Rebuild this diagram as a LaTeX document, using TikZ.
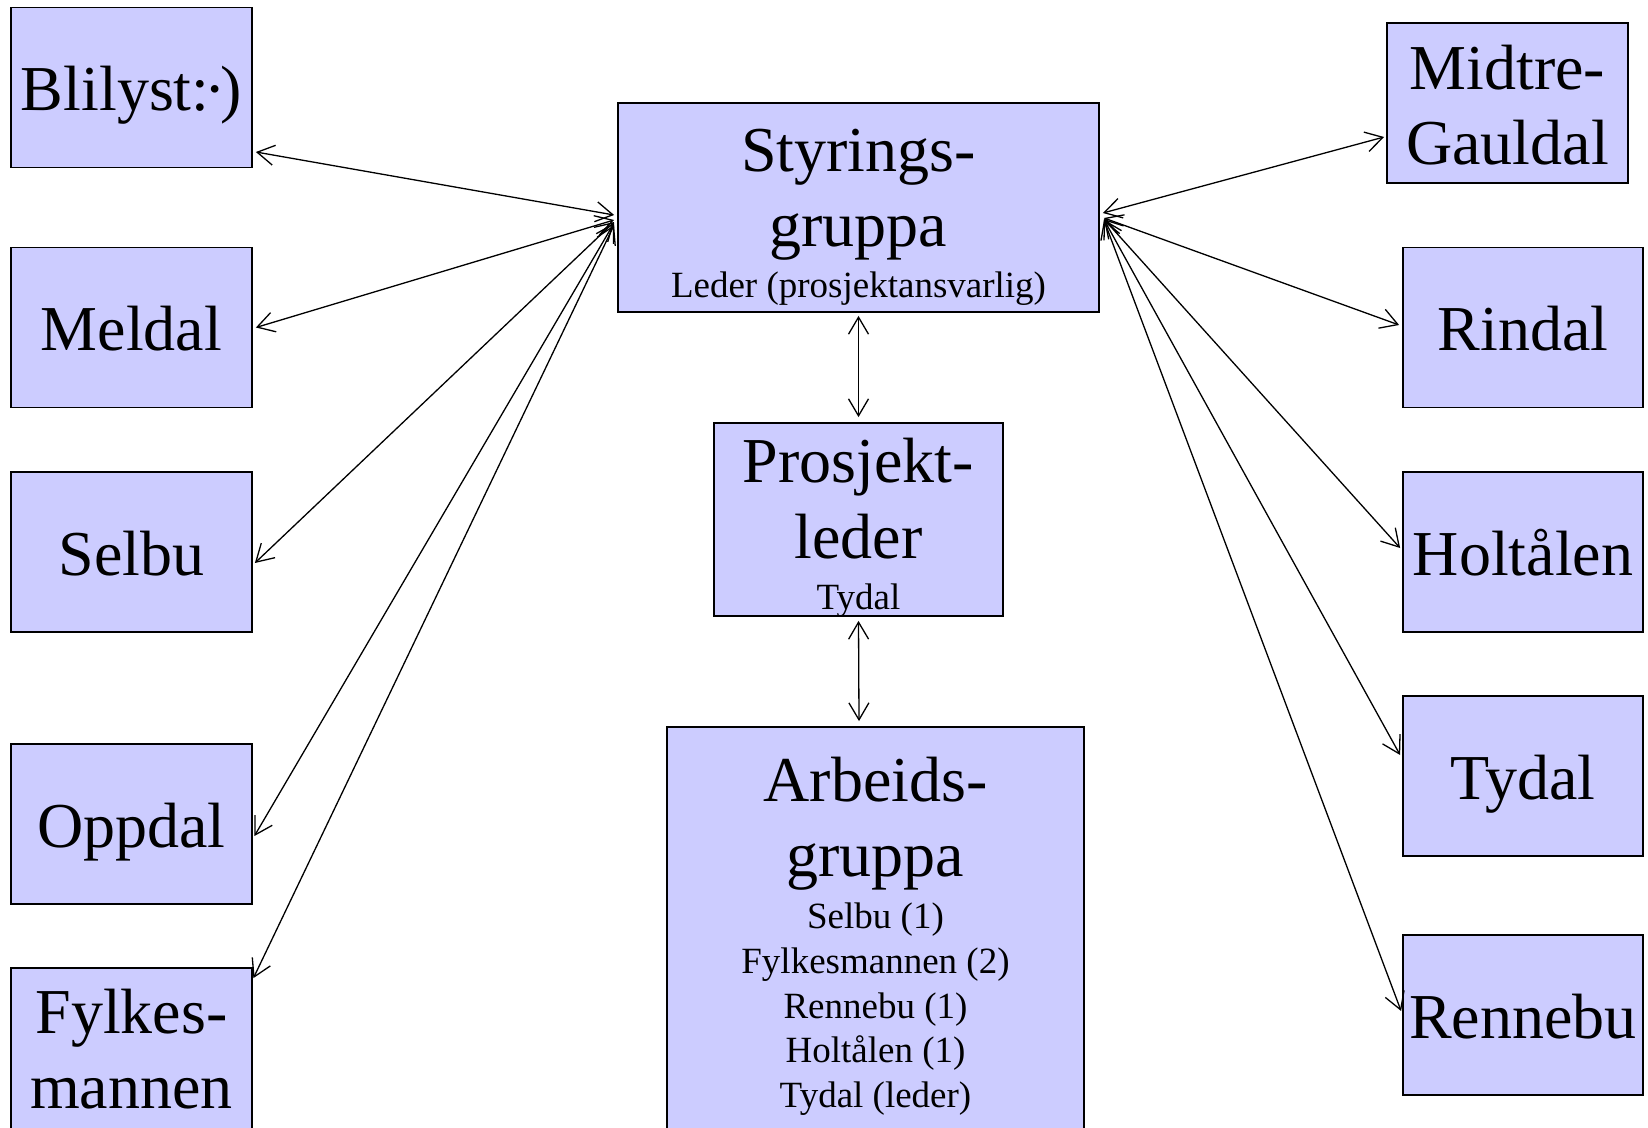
\documentclass[tikz,border=0pt]{standalone}
\usepackage{fontspec}
\setmainfont{Liberation Serif}
\usetikzlibrary{arrows.meta}
\definecolor{boxfill}{HTML}{CCCCFF}
\newcommand\bigfnt{\fontsize{64}{74}\selectfont}
\newcommand\smallfnt{\fontsize{37}{44}\selectfont}
\begin{document}
\begin{tikzpicture}[x=1pt,y=-1pt,
  box/.style={draw=black, line width=1.8pt, fill=boxfill, rectangle, inner sep=0pt,
    minimum width=241pt, minimum height=160pt, font=\bigfnt, text height=46pt, text depth=0pt},
  bigtxt/.style={anchor=base, inner sep=0pt, font=\bigfnt},
  smalltxt/.style={anchor=base, inner sep=0pt, font=\smallfnt},
  link/.style={line width=1.3pt,
    arrows={Straight Barb[length=17pt,width=20pt]-Straight Barb[length=17pt,width=20pt]}}]
\useasboundingbox (0,0) rectangle (1648,1127);
\clip (0,0) rectangle (1648,1127);

% left column
\node[box] (blilyst) at (131.5,87.5) {Blilyst:\kern-5pt·\kern-5pt)};
\node[box] (meldal) at (131.5,327.5) {Meldal};
\node[box] (selbu) at (131.5,552) {Selbu};
\node[box] (oppdal) at (131.5,824) {Oppdal};
\node[box, minimum height=164pt] (fylkes) at (131.5,1050) {};
\node[bigtxt] (fylkesA) at (131.5,1033) {Fylkes-};
\node[bigtxt] (fylkesB) at (131.5,1108) {mannen};

% right column
\node[box] (midtre) at (1507.5,103) {};
\node[bigtxt] (midtreA) at (1507.5,89) {Midtre-};
\node[bigtxt] (midtreB) at (1507.5,164) {Gauldal};
\node[box, minimum width=240pt] (rindal) at (1523,327.5) {Rindal};
\node[box, minimum width=240pt] (holtalen) at (1523,552) {Holtålen};
\node[box, minimum width=240pt] (tydal) at (1523,776) {Tydal};
\node[box, minimum width=240pt] (rennebu) at (1523,1015) {Rennebu};

% centre
\node[box, minimum width=481pt, minimum height=209pt] (sty) at (858.5,207.5) {};
\node[bigtxt] (styA) at (858.5,171) {Styrings-};
\node[bigtxt] (styB) at (858.5,246) {gruppa};
\node[smalltxt] (styC) at (858.5,297) {Leder (prosjektansvarlig)};

\node[box, minimum width=289pt, minimum height=193pt] (prosj) at (858.5,519.5) {};
\node[bigtxt] (prosjA) at (858.5,482) {Prosjekt-};
\node[bigtxt] (prosjB) at (858.5,558) {leder};
\node[smalltxt] (prosjC) at (858.5,609) {Tydal};

\node[box, minimum width=417pt, minimum height=413pt] (arb) at (875.5,933.5) {};
\node[bigtxt] (arbA) at (875.5,801) {Arbeids-};
\node[bigtxt] (arbB) at (875.5,876) {gruppa};
\node[smalltxt] (arbC) at (875.5,928) {Selbu (1)};
\node[smalltxt] (arbD) at (875.5,973) {Fylkesmannen (2)};
\node[smalltxt] (arbE) at (875.5,1018) {Rennebu (1)};
\node[smalltxt] (arbF) at (875.5,1062) {Holtålen (1)};
\node[smalltxt] (arbG) at (875.5,1107) {Tydal (leder)};

% connectors, left
\draw[link] ([xshift=-3pt,yshift=-7.5pt]sty.west) -- ([xshift=3pt,yshift=-64.5pt]blilyst.east);
\draw[link] ([xshift=-3pt,yshift=-12.5pt]sty.west) -- ([xshift=3pt]meldal.east);
\draw[link] ([xshift=-3pt,yshift=-14.5pt]sty.west) -- ([xshift=2pt,yshift=-11pt]selbu.east);
\draw[link] ([xshift=-3pt,yshift=-15.5pt]sty.west) -- ([xshift=1.5pt,yshift=-12pt]oppdal.east);
\draw[link] ([xshift=-3pt,yshift=-17.5pt]sty.west) -- ([xshift=0.5pt,yshift=-11pt]fylkes.north east);

% connectors, right
\draw[link] ([xshift=3pt,yshift=-5.5pt]sty.east) -- ([xshift=-2pt,yshift=-34pt]midtre.west);
\draw[link] ([xshift=4pt,yshift=-10.5pt]sty.east) -- ([xshift=-3pt,yshift=2.5pt]rindal.west);
\draw[link] ([xshift=4pt,yshift=-11.5pt]sty.east) -- ([xshift=-2pt,yshift=4pt]holtalen.west);
\draw[link] ([xshift=4pt,yshift=-12pt]sty.east) -- ([xshift=-2pt,yshift=21pt]tydal.west);
\draw[link] ([xshift=4pt,yshift=-12.5pt]sty.east) -- ([xshift=-1pt,yshift=4pt]rennebu.west);

% connectors, vertical
\draw[link] ([yshift=-3pt]sty.south) -- ([yshift=5pt]prosj.north);
\draw[link] ([yshift=-4pt]prosj.south) -- ([xshift=-16.5pt,yshift=5pt]arb.north);
\end{tikzpicture}
\end{document}
